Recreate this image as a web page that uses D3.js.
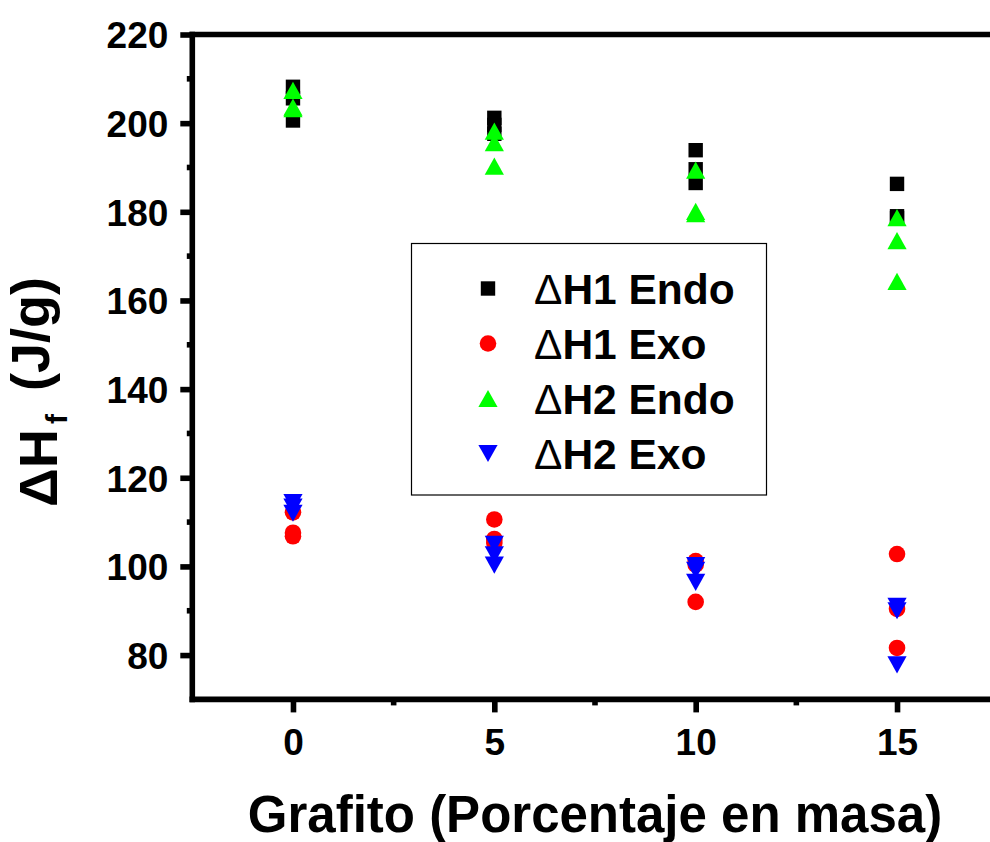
<!DOCTYPE html>
<html>
<head>
<meta charset="utf-8">
<script src="https://cdn.jsdelivr.net/npm/d3@7"></script>
<style>
  html, body { margin: 0; padding: 0; background: #fff; }
  svg { display: block; }
  text { font-family: "Liberation Sans", Arial, Helvetica, sans-serif; font-weight: bold; fill: #000; }
</style>
</head>
<body>
<svg id="chart" width="990" height="842"></svg>
<script>
// Graphite content (mass %) for each group of measurements
const grafito = [0, 5, 10, 15];

// Enthalpy values (J/g), three measurements per graphite content
const h1Endo = [[208.2, 205.6, 200.6], [201.2, 199.6, 197.6], [193.9, 189.6, 186.5], [186.3, 179.0, 178.6]];
const h1Exo  = [[112.2, 107.6, 106.8], [110.6, 106.2, 105.3], [101.2, 100.4, 92.0], [102.8, 90.4, 81.6]];
const h2Endo = [[207.4, 203.3, 203.6], [198.2, 195.6, 190.3], [189.4, 180.1, 179.6], [178.7, 173.5, 164.3]];
const h2Exo  = [[114.4, 113.4, 112.0], [105.0, 102.6, 100.3], [100.2, 99.1, 96.4], [91.0, 90.0, 77.8]];

const seriesLabels = ["H1 Endo", "H1 Exo", "H2 Endo", "H2 Exo"];
const seriesColors = ["#000000", "#ff0000", "#00ff00", "#0000ff"];
const seriesShapes = ["square", "circle", "up", "down"];
const seriesData = [h1Endo, h1Exo, h2Endo, h2Exo];

const xTicks = [0, 5, 10, 15];
const yTicks = [80, 100, 120, 140, 160, 180, 200, 220];

const svg = d3.select("#chart");

const x = d3.scaleLinear().domain([-2.5, 17.5]).range([192.3, 997.7]);
const y = d3.scaleLinear().domain([70, 220]).range([699.4, 34.5]);

const AX = 5.6; // axis stroke width

// Marker path generator
function markerPath(shape) {
  switch (shape) {
    case "square": return "M-7.2,-7.2H7.2V7.2H-7.2Z";
    case "circle": return d3.symbol(d3.symbolCircle, Math.PI * 8.3 * 8.3)();
    case "up": return "M0,-8.6L9.6,8.6L-9.6,8.6Z";
    case "down": return "M0,8.6L9.6,-8.6L-9.6,-8.6Z";
  }
}

// Data points
seriesData.forEach((series, si) => {
  const pts = [];
  series.forEach((vals, gi) => vals.forEach(v => pts.push({ g: grafito[gi], v })));
  svg.append("g")
    .selectAll("path")
    .data(pts)
    .join("path")
    .attr("d", markerPath(seriesShapes[si]))
    .attr("transform", d => `translate(${x(d.g)},${y(d.v)})`)
    .attr("fill", seriesColors[si]);
});

// Y axis (left)
const yAxis = d3.axisLeft(y).tickValues(yTicks).tickSize(12).tickSizeOuter(0).tickFormat(d3.format("d")).tickPadding(12);
const gy = svg.append("g").attr("transform", `translate(${x(-2.5)},0)`).call(yAxis);
gy.select(".domain").remove();
gy.selectAll(".tick line").attr("stroke", "#000").attr("stroke-width", AX);
gy.selectAll(".tick text").style("font-size", "37px").attr("dy", "0.36em").attr("fill", "#000");

// Y minor ticks
const yMinor = d3.range(90, 220, 20);
svg.append("g").selectAll("line").data(yMinor).join("line")
  .attr("x1", x(-2.5) - 5.5).attr("x2", x(-2.5))
  .attr("y1", d => y(d)).attr("y2", d => y(d))
  .attr("stroke", "#000").attr("stroke-width", AX);

// X axis (bottom)
const xAxis = d3.axisBottom(x).tickValues(xTicks).tickSize(13).tickSizeOuter(0).tickFormat(d3.format("d")).tickPadding(16);
const gx = svg.append("g").attr("transform", `translate(0,${y(70)})`).call(xAxis);
gx.select(".domain").remove();
gx.selectAll(".tick line").attr("stroke", "#000").attr("stroke-width", AX);
gx.selectAll(".tick text").style("font-size", "37px").attr("fill", "#000");

// X minor ticks
const xMinor = [2.5, 7.5, 12.5];
svg.append("g").selectAll("line").data(xMinor).join("line")
  .attr("x1", d => x(d)).attr("x2", d => x(d))
  .attr("y1", y(70)).attr("y2", y(70) + 6)
  .attr("stroke", "#000").attr("stroke-width", AX);

// Frame lines (left, top, bottom, right)
const frame = svg.append("g").attr("stroke", "#000").attr("stroke-width", AX).attr("stroke-linecap", "square");
frame.append("line").attr("x1", x(-2.5)).attr("x2", x(-2.5)).attr("y1", y(220)).attr("y2", y(70));
frame.append("line").attr("x1", x(-2.5)).attr("x2", x(17.5)).attr("y1", y(220)).attr("y2", y(220));
frame.append("line").attr("x1", x(-2.5)).attr("x2", x(17.5)).attr("y1", y(70)).attr("y2", y(70));
frame.append("line").attr("x1", x(17.5)).attr("x2", x(17.5)).attr("y1", y(220)).attr("y2", y(70));

// Axis titles
svg.append("text")
  .attr("x", 595).attr("y", 832)
  .attr("text-anchor", "middle")
  .style("font-size", "51px")
  .text("Grafito (Porcentaje en masa)");

const yTitle = svg.append("text")
  .attr("transform", "translate(57,392) rotate(-90)")
  .attr("text-anchor", "middle")
  .style("font-size", "54px");
yTitle.append("tspan").text("\u0394H");
yTitle.append("tspan").attr("dy", "0.32em").attr("dx", "5").style("font-size", "30px").text("f");
yTitle.append("tspan").attr("dy", "-0.32em").attr("dx", "8").text(" (J/g)");

// Legend
const legend = svg.append("g");
legend.append("rect")
  .attr("x", 411.5).attr("y", 243.5).attr("width", 355).attr("height", 251.5)
  .attr("fill", "#fff").attr("stroke", "#000").attr("stroke-width", 1.2);

const rowY = d3.scalePoint().domain(seriesLabels).range([288.5, 453.5]);
seriesLabels.forEach((name, i) => {
  legend.append("path")
    .attr("d", markerPath(seriesShapes[i]))
    .attr("transform", `translate(488,${rowY(name)})`)
    .attr("fill", seriesColors[i]);
  const t = legend.append("text")
    .attr("x", 534).attr("y", rowY(name) + 15)
    .style("font-size", "42.5px");
  t.append("tspan").style("font-weight", "normal").text("\u0394");
  t.append("tspan").text(name);
});
</script>
</body>
</html>
